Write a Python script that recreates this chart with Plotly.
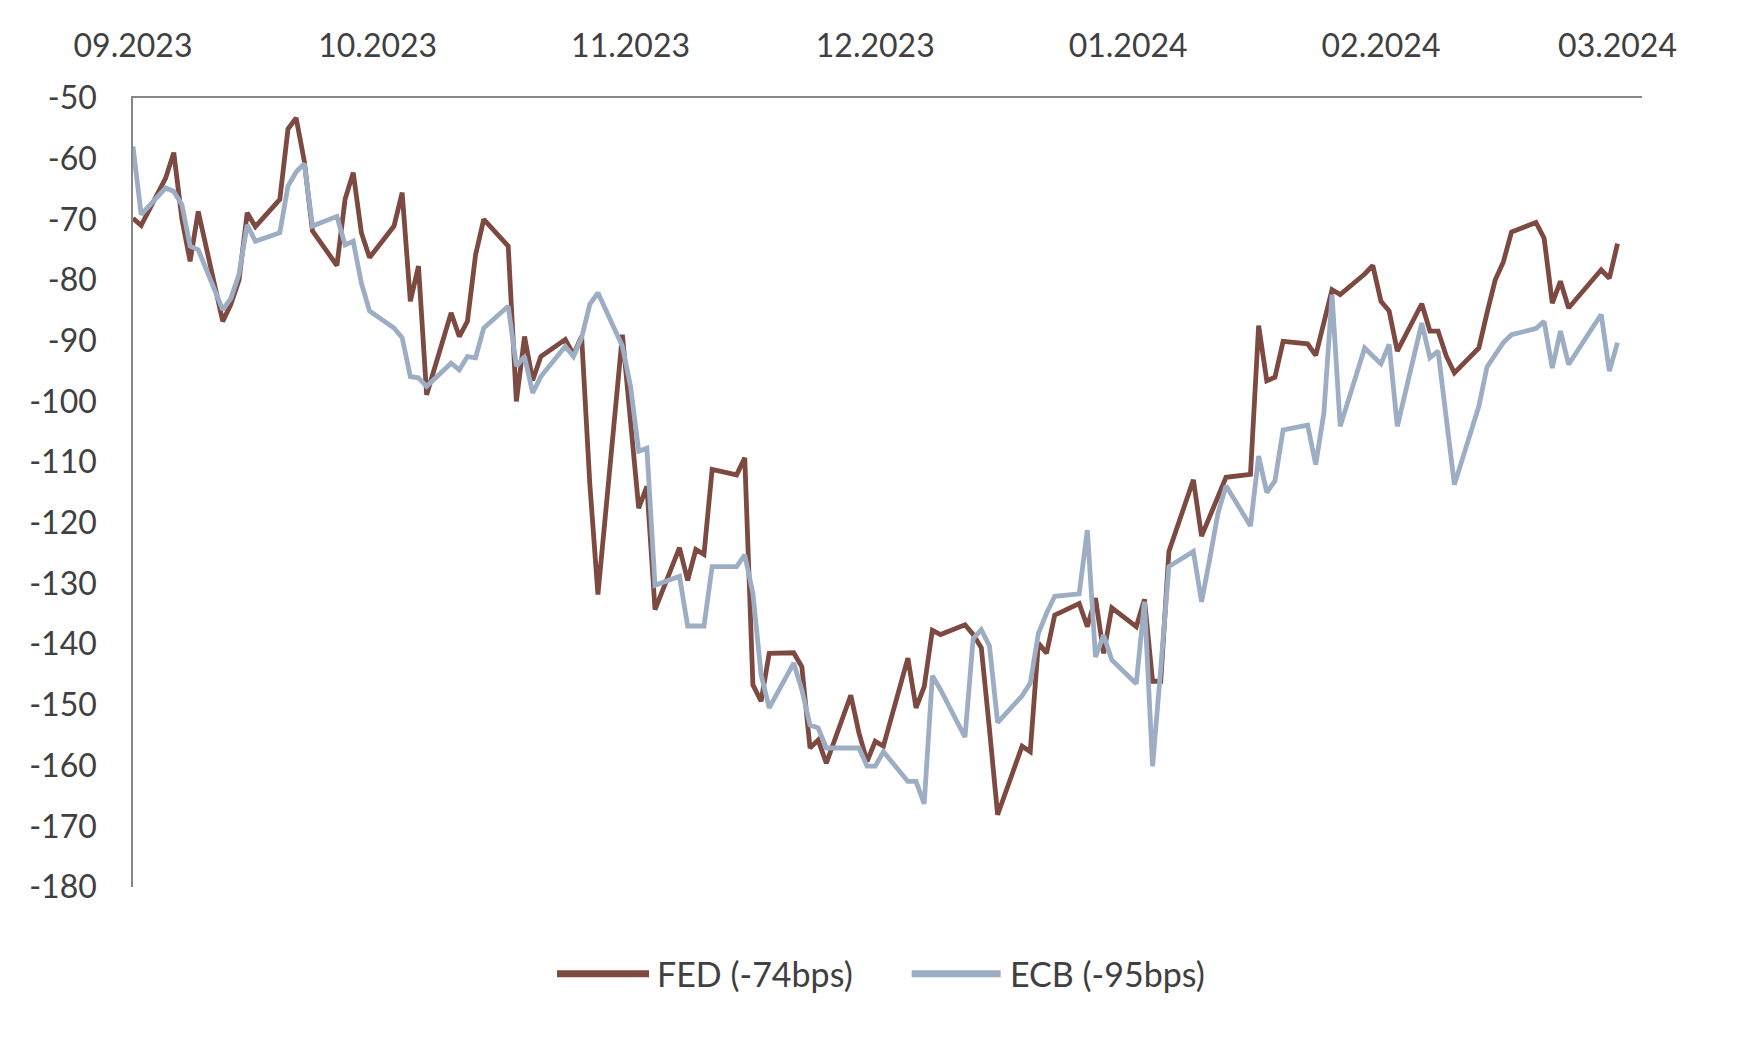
import plotly.graph_objects as go

dates = [
    "2023-09-01", "2023-09-02",
    "2023-09-05", "2023-09-06", "2023-09-07", "2023-09-08", "2023-09-09",
    "2023-09-12", "2023-09-13", "2023-09-14", "2023-09-15", "2023-09-16",
    "2023-09-19", "2023-09-20", "2023-09-21", "2023-09-22", "2023-09-23",
    "2023-09-26", "2023-09-27", "2023-09-28", "2023-09-29", "2023-09-30",
    "2023-10-03", "2023-10-04", "2023-10-05", "2023-10-06", "2023-10-07",
    "2023-10-10", "2023-10-11", "2023-10-12", "2023-10-13", "2023-10-14",
    "2023-10-17", "2023-10-18", "2023-10-19", "2023-10-20", "2023-10-21",
    "2023-10-24", "2023-10-25", "2023-10-26", "2023-10-27", "2023-10-28",
    "2023-10-31", "2023-11-01", "2023-11-02", "2023-11-03", "2023-11-04",
    "2023-11-07", "2023-11-08", "2023-11-09", "2023-11-10", "2023-11-11",
    "2023-11-14", "2023-11-15", "2023-11-16", "2023-11-17", "2023-11-18",
    "2023-11-21", "2023-11-22", "2023-11-23", "2023-11-24", "2023-11-25",
    "2023-11-28", "2023-11-29", "2023-11-30", "2023-12-01", "2023-12-02",
    "2023-12-05", "2023-12-06", "2023-12-07", "2023-12-08", "2023-12-09",
    "2023-12-12", "2023-12-13", "2023-12-14", "2023-12-15", "2023-12-16",
    "2023-12-19", "2023-12-20", "2023-12-21", "2023-12-22", "2023-12-23",
    "2023-12-26", "2023-12-27", "2023-12-28", "2023-12-29", "2023-12-30",
    "2024-01-02", "2024-01-03", "2024-01-04", "2024-01-05", "2024-01-06",
    "2024-01-09", "2024-01-10", "2024-01-11", "2024-01-12", "2024-01-13",
    "2024-01-16", "2024-01-17", "2024-01-18", "2024-01-19", "2024-01-20",
    "2024-01-23", "2024-01-24", "2024-01-25", "2024-01-26", "2024-01-27",
    "2024-01-30", "2024-01-31", "2024-02-01", "2024-02-02", "2024-02-03",
    "2024-02-06", "2024-02-07", "2024-02-08", "2024-02-09", "2024-02-10",
    "2024-02-13", "2024-02-14", "2024-02-15", "2024-02-16", "2024-02-17",
    "2024-02-20", "2024-02-21", "2024-02-22", "2024-02-23", "2024-02-24",
    "2024-02-27", "2024-02-28", "2024-02-29", "2024-03-01",
]

fed = [
    -69.8, -71.0,
    -63.2, -59.0, -70.0, -76.9, -68.7,
    -86.8, -84.0, -80.0, -68.9, -71.2,
    -66.7, -55.1, -53.3, -60.4, -71.9,
    -77.6, -66.7, -62.3, -72.2, -76.3,
    -71.1, -65.6, -83.5, -77.7, -98.9,
    -85.4, -89.3, -86.8, -75.8, -70.0,
    -74.4, -100.0, -89.3, -96.5, -92.6,
    -89.8, -92.3, -89.3, -113.5, -131.8,
    -89.0, -103.0, -117.6, -114.0, -134.3,
    -124.1, -129.5, -124.4, -125.2, -111.2,
    -112.1, -109.3, -146.7, -149.4, -141.5,
    -141.4, -143.7, -157.1, -155.8, -159.6,
    -148.4, -154.6, -159.3, -156.0, -156.8,
    -142.3, -150.5, -147.0, -137.7, -138.4,
    -136.8, -138.4, -140.6, -154.0, -168.1,
    -156.8, -157.7, -139.8, -141.5, -135.2,
    -133.3, -137.1, -132.4, -141.5, -134.0,
    -137.1, -132.6, -146.1, -146.1, -124.7,
    -112.9, -122.2, -118.9, -115.3, -112.5,
    -112.0, -87.5, -96.6, -96.0, -90.1,
    -90.5, -92.4, -87.0, -81.6, -82.4,
    -79.0, -77.6, -83.5, -85.1, -91.7,
    -83.9, -88.4, -88.4, -92.5, -95.3,
    -91.2, -85.4, -80.0, -77.0, -72.1,
    -70.5, -73.1, -83.8, -80.2, -84.6,
    -79.9, -78.3, -79.7, -74.0,
]

ecb = [
    -58.0, -69.2,
    -64.8, -65.4, -67.6, -74.4, -75.0,
    -84.9, -83.0, -79.0, -70.9, -73.6,
    -72.2, -64.5, -62.2, -60.8, -71.1,
    -69.5, -74.2, -73.6, -80.5, -85.1,
    -87.9, -89.5, -95.9, -96.1, -97.5,
    -93.7, -94.8, -92.6, -92.8, -87.9,
    -84.3, -94.2, -92.6, -98.6, -95.9,
    -90.9, -92.6, -89.5, -84.0, -82.1,
    -90.9, -97.5, -108.2, -107.7, -130.3,
    -128.8, -137.0, -137.0, -137.0, -127.2,
    -127.2, -125.3, -131.6, -145.0, -150.5,
    -143.1, -147.5, -153.3, -153.8, -157.1,
    -157.1, -157.1, -160.1, -160.1, -157.7,
    -162.6, -162.6, -166.3, -145.2, -147.5,
    -155.3, -139.1, -137.6, -140.3, -152.9,
    -148.5, -146.4, -138.2, -134.9, -132.1,
    -131.7, -121.2, -142.1, -138.5, -142.6,
    -146.5, -133.0, -160.1, -144.0, -127.2,
    -124.7, -133.0, -126.0, -118.5, -113.9,
    -120.5, -109.0, -115.0, -113.1, -104.7,
    -103.9, -110.4, -101.9, -82.4, -104.1,
    -91.2, -92.5, -93.8, -90.6, -104.1,
    -87.1, -92.8, -91.7, -102.7, -113.7,
    -100.8, -94.3, -92.3, -90.3, -89.0,
    -88.0, -86.8, -94.5, -88.4, -93.9,
    -87.7, -85.7, -95.0, -90.3,
]

series_names = ["FED (-74bps)", "ECB (-95bps)"]
y_ticks = [-50, -60, -70, -80, -90, -100, -110, -120, -130, -140, -150, -160, -170, -180]
y_tick_labels = ["-50", "-60", "-70", "-80", "-90", "-100", "-110", "-120",
                 "-130", "-140", "-150", "-160", "-170", "-180"]

FED_COLOR = "#7D4A41"
ECB_COLOR = "#9DAEC4"
TEXT_COLOR = "#404040"
AXIS_COLOR = "#878787"
FONT = "Lato, 'Open Sans', sans-serif"

fig = go.Figure()
fig.add_trace(go.Scatter(x=dates, y=fed, mode="lines", name=series_names[0],
                         line=dict(color=FED_COLOR, width=4.8), showlegend=False))
fig.add_trace(go.Scatter(x=dates, y=ecb, mode="lines", name=series_names[1],
                         line=dict(color=ECB_COLOR, width=4.8), showlegend=False))

fig.update_layout(
    width=1754, height=1040,
    margin=dict(l=125, r=120, t=90, b=161),
    paper_bgcolor="white", plot_bgcolor="white",
    font=dict(family=FONT, size=32, color=TEXT_COLOR),
)
fig.update_xaxes(
    type="date", side="top",
    range=["2023-09-01", "2024-03-04"],
    tick0="2023-09-01", dtick="M1", tickformat="%m.%Y",
    showgrid=False, zeroline=False,
    showline=True, linecolor=AXIS_COLOR, linewidth=1.6,
    ticks="", ticklabelstandoff=26,
    tickfont=dict(family=FONT, size=32, color=TEXT_COLOR),
)
fig.update_yaxes(
    range=[-180, -50], tickvals=y_ticks, ticktext=y_tick_labels,
    showgrid=False, zeroline=False,
    showline=True, linecolor=AXIS_COLOR, linewidth=1.6,
    ticks="", ticklabelstandoff=28,
    tickfont=dict(family=FONT, size=32, color=TEXT_COLOR),
)

# legend drawn below the plot
legend_items = [
    (0.281, 0.342, 0.346, series_names[0], FED_COLOR),
    (0.516, 0.575, 0.580, series_names[1], ECB_COLOR),
]
for x0, x1, xt, label, col in legend_items:
    fig.add_shape(type="line", xref="paper", yref="paper", x0=x0, x1=x1,
                  y0=-0.110, y1=-0.110, line=dict(color=col, width=7))
    fig.add_annotation(xref="paper", yref="paper", x=xt, y=-0.110, text=label,
                       showarrow=False, xanchor="left", yanchor="middle",
                       font=dict(family=FONT, size=34, color=TEXT_COLOR))

fig.write_html("out.html")
